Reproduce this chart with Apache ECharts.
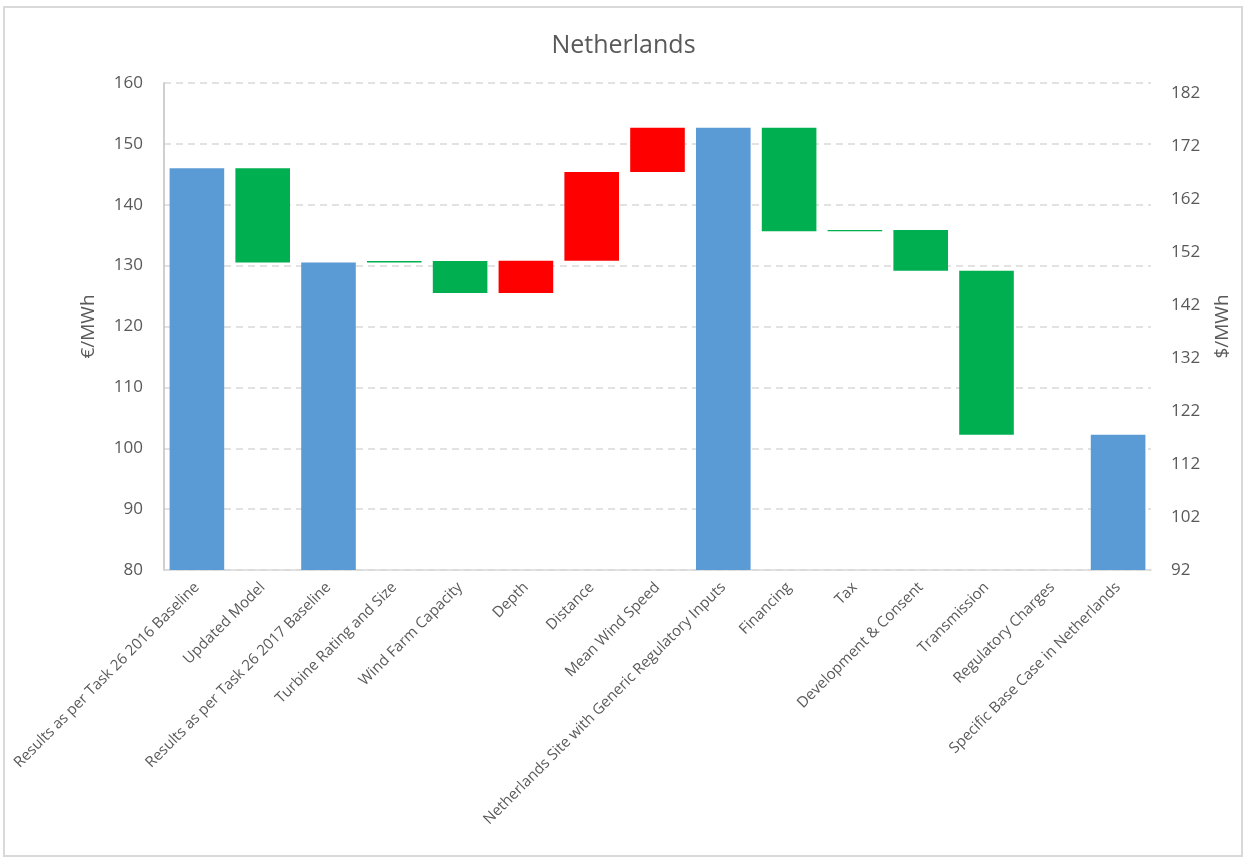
<!DOCTYPE html>
<html>
<head>
<meta charset="utf-8">
<script src="https://cdn.jsdelivr.net/npm/echarts@6/dist/echarts.min.js"></script>
<style>
  html, body { margin: 0; padding: 0; background: #fff; }
  #chart { width: 1247px; height: 860px; }
</style>
</head>
<body>
<div id="chart"></div>
<script>
// ---- Data (€/MWh) ----
const categories = [
  'Results as per Task 26 2016 Baseline',
  'Updated Model',
  'Results as per Task 26 2017 Baseline',
  'Turbine Rating and Size',
  'Wind Farm Capacity',
  'Depth',
  'Distance',
  'Mean Wind Speed',
  'Netherlands Site with Generic Regulatory Inputs',
  'Financing',
  'Tax',
  'Development & Consent',
  'Transmission',
  'Regulatory Charges',
  'Specific Base Case in Netherlands'
];
// start and end level of each step (totals start at 0)
const startValues = [0, 146.0, 0, 130.5, 130.75, 125.5, 130.8, 145.4, 0, 152.65, 135.65, 135.85, 129.15, 102.2, 0];
const endValues   = [146.0, 130.5, 130.5, 130.75, 125.5, 130.8, 145.4, 152.65, 152.65, 135.65, 135.85, 129.15, 102.2, 102.2, 102.2];
const stepKinds   = ['total', 'decrease', 'total', 'decrease', 'decrease', 'increase', 'increase', 'increase',
                     'total', 'decrease', 'decrease', 'decrease', 'decrease', 'decrease', 'total'];
const leftTicks = { min: 80, max: 160, interval: 10 };
const rightTicks = { min: 92, max: 184, interval: 10 };

const kindColors = { total: '#5B9BD5', decrease: '#00B050', increase: '#FF0000' };

const baseData = startValues.map((s, i) => Math.min(s, endValues[i]));
const deltaData = startValues.map((s, i) => ({
  value: Math.abs(endValues[i] - s),
  itemStyle: { color: kindColors[stepKinds[i]] }
}));

const textColor = '#595959';
const font = '"Open Sans", "Noto Sans", sans-serif';

const chart = echarts.init(document.getElementById('chart'), null, { renderer: 'canvas' });
chart.setOption({
  animation: false,
  backgroundColor: '#ffffff',
  title: {
    text: 'Netherlands',
    left: 'center',
    top: 33,
    padding: 0,
    textStyle: { color: textColor, fontSize: 25, fontWeight: 'normal', fontFamily: font }
  },
  graphic: [{
    type: 'rect',
    shape: { x: 4, y: 7, width: 1238, height: 849 },
    style: { fill: 'none', stroke: '#D9D9D9', lineWidth: 2 },
    silent: true
  }],
  grid: { left: 164, right: 96, top: 83, bottom: 290 },
  xAxis: {
    type: 'category',
    data: categories,
    axisTick: { show: false },
    axisLine: { show: true, lineStyle: { color: '#D9D9D9', width: 1.5 } },
    axisLabel: {
      interval: 0, rotate: 45, margin: 15,
      color: textColor, fontSize: 15, fontFamily: font
    }
  },
  yAxis: [{
    type: 'value',
    min: leftTicks.min, max: leftTicks.max, interval: leftTicks.interval,
    name: '€/MWh',
    nameLocation: 'middle',
    nameGap: 66,
    nameTextStyle: { color: textColor, fontSize: 19, fontFamily: font },
    axisLine: { show: true, lineStyle: { color: '#BFBFBF', width: 1.5 } },
    axisTick: { show: false },
    axisLabel: { color: textColor, fontSize: 17, fontFamily: font, margin: 21 },
    splitLine: { show: true, lineStyle: { color: '#D9D9D9', width: 1.5, type: [7, 5] } }
  }, {
    type: 'value',
    position: 'right',
    min: rightTicks.min, max: rightTicks.max, interval: rightTicks.interval,
    name: '$/MWh',
    nameLocation: 'middle',
    nameGap: 62,
    nameTextStyle: { color: textColor, fontSize: 19, fontFamily: font },
    axisLine: { show: false },
    axisTick: { show: false },
    axisLabel: { color: textColor, fontSize: 17, fontFamily: font, margin: 20, showMaxLabel: false },
    splitLine: { show: false }
  }],
  series: [{
    type: 'bar',
    stack: 'waterfall',
    data: baseData,
    barWidth: '83%',
    itemStyle: { color: 'rgba(0,0,0,0)' },
    silent: true
  }, {
    type: 'bar',
    stack: 'waterfall',
    data: deltaData,
    barWidth: '83%'
  }]
});
</script>
</body>
</html>
